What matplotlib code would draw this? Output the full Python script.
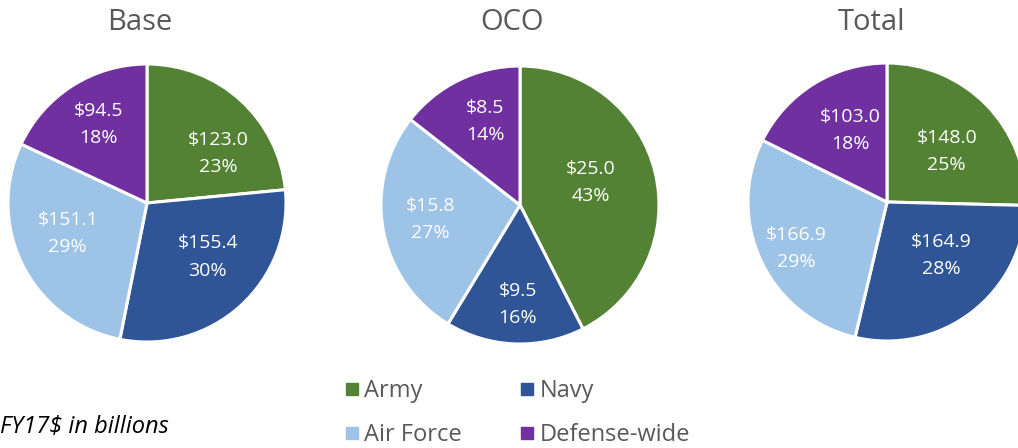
import matplotlib as mpl
mpl.use('Agg')
import matplotlib.pyplot as plt
from matplotlib.lines import Line2D

plt.rcParams['font.family'] = ['Open Sans', 'DejaVu Sans']

services = ['Army', 'Navy', 'Air Force', 'Defense-wide']
colors = ['#548235', '#2F5597', '#9DC3E6', '#7030A0']

titles = ['Base', 'OCO', 'Total']
base = [123.0, 155.4, 151.1, 94.5]
oco = [25.0, 9.5, 15.8, 8.5]
total = [148.0, 164.9, 166.9, 103.0]
series = [base, oco, total]

W, H = 1018, 448
fig = plt.figure(figsize=(W / 100, H / 100), dpi=100)

# layout: pie centres in px (x, y from top), title x, radius in px
centres = [(147, 203), (520, 205), (887, 202)]
title_x = [140, 512, 872]
R = 139
# Excel "best fit" label placement, nudges in px (right, down)
label_nudge = [
    [(11, 16), (1, -12), (0, -10), (-1, -3)],
    [(-16, -2), (1, 11), (-2, -2), (4, -4)],
    [(-4, 12), (0, -17), (-10, 9), (10, 4)],
]

for (cx, cy), tx, vals, title, nudges in zip(centres, title_x, series, titles, label_nudge):
    ax = fig.add_axes([(cx - R) / W, (H - cy - R) / H, 2 * R / W, 2 * R / H])
    tot = sum(vals)
    wedges, texts, autotexts = ax.pie(
        vals, colors=colors, startangle=90, counterclock=False, radius=1,
        autopct=lambda p, t=tot: f'${p * t / 100:.1f}\n{p:.0f}%',
        pctdistance=0.64,
        wedgeprops=dict(edgecolor='white', linewidth=2.2),
        textprops=dict(color='white', fontsize=14, linespacing=1.65))
    for at, (nx, ny) in zip(autotexts, nudges):
        x, y = at.get_position()
        at.set_position((x + nx / R, y - ny / R))
    ax.set_xlim(-1, 1)
    ax.set_ylim(-1, 1)
    ax.set_aspect('equal')
    ax.set_axis_off()
    fig.text(tx / W, 1 - 22 / H, title, ha='center', va='center',
             fontsize=21, color='#595959')

handles = [Line2D([], [], marker='s', linestyle='none', markersize=8,
                  markerfacecolor=c, markeredgecolor=c) for c in colors]
order = [0, 2, 1, 3]
leg = fig.legend([handles[i] for i in order], [services[i] for i in order],
                 ncol=2, loc='upper left', bbox_to_anchor=(322 / W, 1 - 358 / H),
                 frameon=False, fontsize=17, handletextpad=0.2,
                 columnspacing=2.4, labelspacing=0.85, handlelength=0.7)
for t in leg.get_texts():
    t.set_color('#595959')

fig.text(0, 1 - 427 / H, 'FY17$ in billions', ha='left', va='center',
         fontsize=17, style='italic', color='black')

fig.savefig('out.png', dpi=100)
